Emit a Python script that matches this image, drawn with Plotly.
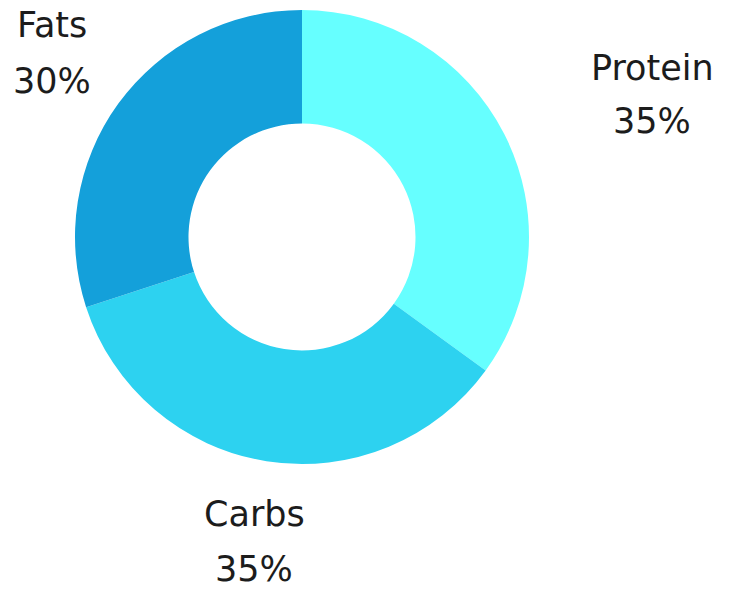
import plotly.graph_objects as go

# Macronutrient split
labels = ["Protein", "Carbs", "Fats"]
values = [35, 35, 30]
colors = ["#66FFFF", "#2DD2F0", "#14A0DA"]

W, H = 731, 590
cx, cy, r = 302, 237, 227

fig = go.Figure(
    go.Pie(
        labels=labels,
        values=values,
        hole=0.5,
        sort=False,
        direction="clockwise",
        rotation=0,
        marker=dict(colors=colors, line=dict(width=0)),
        textinfo="none",
        hoverinfo="label+percent",
        domain=dict(
            x=[(cx - r) / W, (cx + r) / W],
            y=[(H - cy - r) / H, (H - cy + r) / H],
        ),
        showlegend=False,
    )
)

# label placement (pixel centres of name / percent lines)
label_pos = {
    "Protein": (652, 68, 121),
    "Carbs": (254, 514, 569),
    "Fats": (52, 25, 81),
}
total = sum(values)
font = dict(family="DejaVu Sans, sans-serif", size=35, color="#1c1c1c")
for name, val in zip(labels, values):
    x, y1, y2 = label_pos[name]
    for txt, yy in ((name, y1), (f"{round(val / total * 100)}%", y2)):
        fig.add_annotation(
            x=x / W, y=1 - yy / H, xref="paper", yref="paper",
            text=txt, showarrow=False, xanchor="center", yanchor="middle",
            font=font, borderpad=0,
        )

fig.update_layout(
    width=W, height=H,
    margin=dict(l=0, r=0, t=0, b=0),
    paper_bgcolor="white",
    plot_bgcolor="white",
)

fig.write_html("out.html")
